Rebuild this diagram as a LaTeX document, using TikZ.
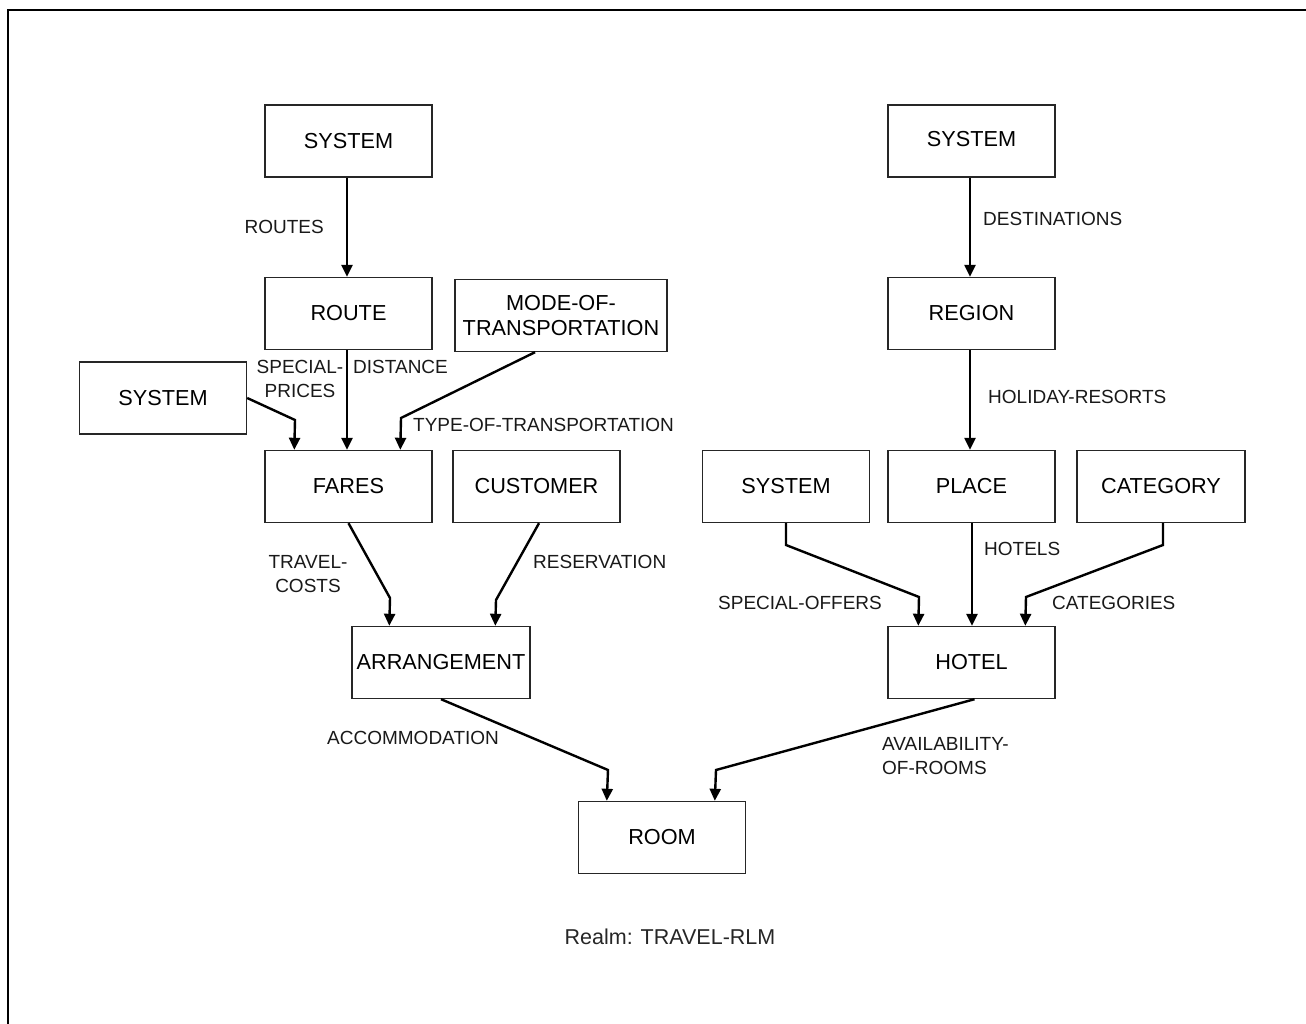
\documentclass[tikz,border=0pt]{standalone}
\usepackage{fontspec}
\setmainfont{Liberation Sans}
\usetikzlibrary{arrows.meta,calc}
\begin{document}
\begin{tikzpicture}[x=1pt,y=-1pt,
  box/.style={draw=black!85,line width=1.4pt,minimum width=167pt,minimum height=72pt,
    inner sep=0pt,align=center,font=\fontsize{21.7}{25}\selectfont},
  lbl/.style={inner sep=0pt,font=\fontsize{19}{23.5}\selectfont,text=black!90},
  link/.style={line width=2.4pt,line join=miter,-{Triangle[length=12pt,width=11pt]}}]
\useasboundingbox (0,0) rectangle (1306,1024);
% page frame (top and left edges)
\draw[line width=1.8pt] (1306,10) -- (8,10) -- (8,1024);

% ---- left tree ----
\node[box] (sysA)  at (348.5,141) {SYSTEM};
\node[box] (route) at (348.5,313.5) {ROUTE};
\node[box,minimum width=212pt] (mode) at (561,315.5) {MODE-OF-\\TRANSPORTATION};
\node[box] (sysC)  at (163,398) {SYSTEM};
\node[box] (fares) at (348.5,486.5) {FARES};
\node[box] (cust)  at (536.5,486.5) {CUSTOMER};
\node[box,minimum width=178pt] (arr) at (441,662.5) {ARRANGEMENT};
\node[box] (room)  at (662,837.5) {ROOM};

% ---- right tree ----
\node[box] (sysB)   at (971.5,141) {\raisebox{5pt}{SYSTEM}};
\node[box] (region) at (971.5,313.5) {REGION};
\node[box] (sysD)   at (786,486.5) {SYSTEM};
\node[box] (place)  at (971.5,486.5) {PLACE};
\node[box,minimum width=168pt] (cat) at (1161,486.5) {\raisebox{-2pt}{CATEGORY}};
\node[box] (hotel)  at (971.5,662.5) {HOTEL};

% ---- connectors, left ----
\draw[link] ($(sysA.south)+(-1.5,0)$) -- ($(route.north)+(-1.5,0)$);
\draw[link] ($(route.south)+(-1.5,0)$) -- ($(fares.north)+(-1.5,0)$);
\draw[link] (sysC.east) -- (295,420) -- ($(fares.north west)+(30,0)$);
\draw[link] ($(mode.south)+(-26,0)$) -- (401,418) -- ($(fares.north west)+(136,0)$);
\draw[link] (fares.south) -- (390,598) -- ($(arr.north west)+(38,0)$);
\draw[link] ($(cust.south)+(2.5,0)$) -- (496,600) -- ($(arr.north west)+(144,0)$);
\draw[link] (arr.south) -- (608,770) -- ($(room.north west)+(29,0)$);

% ---- connectors, right ----
\draw[link] ($(sysB.south)+(-1.5,0)$) -- ($(region.north)+(-1.5,0)$);
\draw[link] ($(region.south)+(-1.5,0)$) -- ($(place.north)+(-1.5,0)$);
\draw[link] (sysD.south) -- (786,545) -- (919,597) -- ($(hotel.north west)+(31,0)$);
\draw[link] ($(place.south)+(0.5,0)$) -- ($(hotel.north)+(0.5,0)$);
\draw[link] ($(cat.south)+(2,0)$) -- (1163,545) -- (1026,597) -- ($(hotel.north west)+(138,0)$);
\draw[link] ($(hotel.south)+(3,0)$) -- (716,770) -- ($(room.north west)+(137,0)$);

% ---- relation labels ----
\node[lbl,anchor=east] (lRoutes) at (324,227) {ROUTES};
\node[lbl,align=center] (lSpecial) at (300,379) {SPECIAL-\\PRICES};
\node[lbl,anchor=west] (lDist) at (353,367) {DISTANCE};
\node[lbl,anchor=west] (lType) at (413,425) {TYPE-OF-TRANSPORTATION};
\node[lbl,align=center] (lTravel) at (308,574) {TRAVEL-\\COSTS};
\node[lbl,anchor=west] (lRes) at (533,562) {RESERVATION};
\node[lbl,anchor=west] (lAcc) at (327,738) {ACCOMMODATION};
\node[lbl,anchor=west,align=left] (lAvail) at (882,756) {AVAILABILITY-\\OF-ROOMS};
\node[lbl,anchor=west] (lDest) at (983,219) {DESTINATIONS};
\node[lbl,anchor=west] (lHol) at (988,397) {HOLIDAY-RESORTS};
\node[lbl,anchor=west] (lOffers) at (718,603) {SPECIAL-OFFERS};
\node[lbl,anchor=west] (lHotels) at (984,549) {HOTELS};
\node[lbl,anchor=west] (lCats) at (1052,603) {CATEGORIES};

% ---- caption ----
\node[inner sep=0pt,font=\fontsize{21.5}{25}\selectfont,text=black!85] (caption) at (670,937) {Realm: TRAVEL-RLM};
\end{tikzpicture}
\end{document}
